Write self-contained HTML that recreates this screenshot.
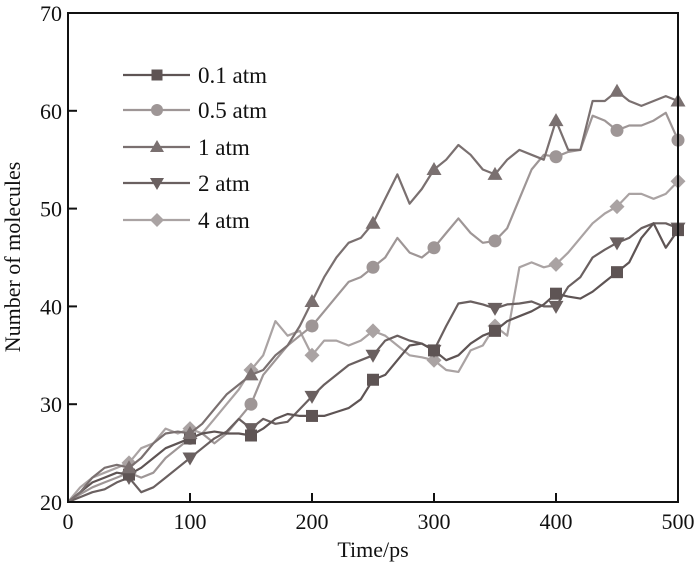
<!DOCTYPE html>
<html><head><meta charset="utf-8"><style>
html,body{margin:0;padding:0;background:#fff;}
svg text{font-family:"Liberation Serif",serif;fill:#111;}
</style></head><body>
<svg id="chart" width="700" height="569" viewBox="0 0 700 569">
<g id="marks"></g>
<g id="axes"></g>
<g id="legend"></g>
</svg>
<script>
const times = [0,10,20,30,40,50,60,70,80,90,100,110,120,130,140,150,160,170,180,190,200,210,220,230,240,250,260,270,280,290,300,310,320,330,340,350,360,370,380,390,400,410,420,430,440,450,460,470,480,490,500];
const s01 = [20,21,22,22.5,23,22.8,23.5,24.5,25.5,26,26.5,27,27.2,27,27,26.8,27.5,28.5,29,28.8,28.8,28.8,29.2,29.6,30.5,32.5,33,34.5,36,36.2,35.5,34.5,35,36.2,37,37.5,38.5,39,39.5,40.2,41.3,41,40.8,41.5,42.5,43.5,44.5,47,48.5,46,47.8];
const s05 = [20,20.8,21.5,22,22.5,23,22.5,23,24.5,25.5,26.5,27,26,27,28.5,30,33,34.5,36,37,38,39.5,41,42.5,43,44,45,47,45.5,45,46,47.5,49,47.5,46.5,46.7,48,51,54,55.5,55.3,55.8,56,59.5,59,58,58.5,58.5,59,59.8,57];
const s1 = [20,21,22.5,23.5,23.8,23.5,24.5,26,27,27.2,27,28,29.5,31,32,33,33.5,35,36,38,40.5,43,45,46.5,47,48.5,51,53.5,50.5,52,54,55,56.5,55.5,54,53.5,55,56,55.5,55,59,56,56,61,61,62,61,60.5,61,61.5,61];
const s2 = [20,20.5,21,21.3,22,22.5,21,21.5,22.5,23.5,24.5,25.5,26.5,27.2,28.5,27.5,28.5,28,28.2,29.5,30.8,32,33,34,34.5,35,36.5,37,36.5,36.2,35.5,38,40.3,40.5,40.2,39.8,40.2,40.3,40.5,40,40,42,43,45,45.8,46.5,47,48,48.5,48.5,48];
const s4 = [20,21.5,22.5,23,23.5,24,25.5,26,27.5,27,27.5,27,28.5,30,31.5,33.5,35,38.5,37,37.5,35,36.5,36.5,36,36.5,37.5,37,36,35,34.8,34.5,33.5,33.3,35.5,36,38,37,44,44.5,44,44.3,45.5,47,48.5,49.5,50.2,51.5,51.5,51,51.5,52.8];
const xTicks = [0,100,200,300,400,500];
const yTicks = [20,30,40,50,60,70];
const seriesNames = ["0.1 atm","0.5 atm","1 atm","2 atm","4 atm"];
const seriesData = [s01,s05,s1,s2,s4];
const colors = ["#5e5454","#9e9696","#7a7070","#6a6060","#aaa3a3"];
const shapes = ["square","circle","up","down","diamond"];

const X0=68,X1=678,Y0=502,Y1=13;
const xs = t => X0 + (t-0)/(500-0)*(X1-X0);
const ys = v => Y0 - (v-20)/(70-20)*(Y0-Y1);
const NS="http://www.w3.org/2000/svg";
function mk(tag,attrs,parent){const e=document.createElementNS(NS,tag);for(const k in attrs)e.setAttribute(k,attrs[k]);parent.appendChild(e);return e;}
function marker(shape,cx,cy,col,parent,r){
  r=r||6.5;let e;
  if(shape==="square") e=mk("rect",{x:cx-r+0.5,y:cy-r+0.5,width:2*r-1,height:2*r-1,fill:col},parent);
  else if(shape==="circle") e=mk("circle",{cx:cx,cy:cy,r:r,fill:col},parent);
  else if(shape==="up") e=mk("polygon",{points:`${cx},${cy-r-1} ${cx-r-1},${cy+r-1} ${cx+r+1},${cy+r-1}`,fill:col},parent);
  else if(shape==="down") e=mk("polygon",{points:`${cx},${cy+r+1} ${cx-r-1},${cy-r+1} ${cx+r+1},${cy-r+1}`,fill:col},parent);
  else e=mk("polygon",{points:`${cx},${cy-r-1} ${cx+r+1},${cy} ${cx},${cy+r+1} ${cx-r-1},${cy}`,fill:col},parent);
  return e;
}
const marks=document.getElementById("marks");
const order=[4,1,3,0,2];
order.forEach(i=>{
  const d=seriesData[i];
  const pts=times.map((t,j)=>xs(t).toFixed(1)+","+ys(d[j]).toFixed(1)).join(" ");
  const pl=mk("polyline",{points:pts,fill:"none",stroke:colors[i],"stroke-width":2.2,"stroke-linejoin":"round"},marks);
  
  
  times.forEach((t,j)=>{
    if(t%50===0 && t>0){
      const m=marker(shapes[i],xs(t),ys(d[j]),colors[i],marks);
      
      
    }
  });
});
const axes=document.getElementById("axes");
const frame=mk("rect",{x:X0,y:Y1,width:X1-X0,height:Y0-Y1,fill:"none",stroke:"#111","stroke-width":2},axes);


xTicks.forEach(t=>{
  const x=xs(t);
  if(t>0&&t<500) mk("line",{x1:x,y1:Y0,x2:x,y2:Y0-9,stroke:"#111","stroke-width":2},axes);
  const tx=mk("text",{x:x,y:Y0+27,"text-anchor":"middle","font-size":22},axes);
  tx.textContent=t;
  
  
});
yTicks.forEach(v=>{
  const y=ys(v);
  if(v>20&&v<70) mk("line",{x1:X0,y1:y,x2:X0+9,y2:y,stroke:"#111","stroke-width":2},axes);
  const tx=mk("text",{x:X0-6,y:y+8,"text-anchor":"end","font-size":22},axes);
  tx.textContent=v;
  
  
});
const xt=mk("text",{x:373,y:557,"text-anchor":"middle","font-size":22},axes);
xt.textContent="Time/ps";


const yt=mk("text",{x:20,y:257,"text-anchor":"middle","font-size":22,transform:"rotate(-90 20 257)"},axes);
yt.textContent="Number of molecules";


const leg=document.getElementById("legend");
const rowsY=[75,110,147,183,220];
seriesNames.forEach((n,i)=>{
  const g=mk("g",{},leg);
  
  
  mk("line",{x1:123,y1:rowsY[i],x2:190,y2:rowsY[i],stroke:colors[i],"stroke-width":2.2},g);
  marker(shapes[i],157,rowsY[i],colors[i],g,6);
  const t=mk("text",{x:198,y:rowsY[i]+8,"font-size":23},g);
  t.textContent=n;
});
</script>
</body></html>
